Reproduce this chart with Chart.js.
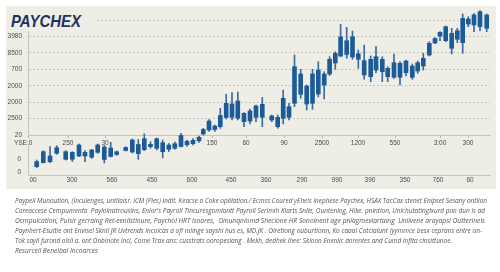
<!DOCTYPE html>
<html><head><meta charset="utf-8">
<script src="https://cdn.jsdelivr.net/npm/chart.js@4.4.1/dist/chart.umd.min.js"></script>
<style>
html,body{margin:0;padding:0;background:#fff;}
#wrap{position:relative;width:500px;height:272px;overflow:hidden;background:#fff;}
#panel{position:absolute;left:6px;top:6px;width:490px;height:183px;background:#efeee6;}
canvas{position:absolute;left:0;top:0;}
#title{position:absolute;left:9px;top:11.8px;padding:0 5px 0 2px;background:#efeee6;font:italic bold 17px "Liberation Sans",Arial,sans-serif;color:#1b3263;line-height:19px;white-space:nowrap;height:19px;}
#title span{display:inline-block;transform-origin:0 50%;}
#caption{position:absolute;left:15px;top:195.6px;font:italic 7px "Open Sans",sans-serif;color:#555;line-height:10.1px;}
#caption div{white-space:nowrap;height:10.1px;}
#caption span{display:inline-block;transform-origin:0 50%;}
</style></head>
<body>
<div id="wrap">
<div id="panel"></div>
<canvas id="cB" width="500" height="272"></canvas>
<canvas id="cA" width="500" height="272"></canvas>
<div id="title"><span data-w="70">PAYCHEX</span></div>
<div id="caption">
<div><span data-w="472">Paypell Munoution, (Inculenges, untilaisr. ICM (Pies) Indit. Keacse a Coke oplilation./ Ecmss Coured yEheis lnephese Paychex, HSAX TacCax stenet Enlpset Sesany ontlion</span></div>
<div><span data-w="470">Coreaccese Cempumenta&nbsp; Paylolnatrousins, Enlor's Payroll Tincuresgomlantt Payroll Serimih Klarts Snlle, Ountenlog, Hike. pnintion, Unlchutatinglxurd pon dun is ad</span></div>
<div><span data-w="470">Ocmpulcation, Pulsir gerraing Ret-eenlistioure, Paychol HRT isoares,&nbsp; Oinunqniomd Shecione HR Sonoinent age pniagmevlartaing&nbsp; Unlivene arayapsl Outterinels</span></div>
<div><span data-w="467">Paynhert-Esultie ont Envisel Sknil JR Uvtrends Incolcas a ofi mlinge sayshi hus es, MD.JK . Oiretlong ouburtionn, Ko caaal Cotcialunt (yymmce besx ceprans entre on-</span></div>
<div><span data-w="437">Tok sayll furond olsll a. ont Onbinote Incl, Come Trax ans: cusstrats ooropesiang . Mekh, dedhek Ihee: Skioon Enenlic dorentes and Cumd Infita cinsittunoe.</span></div>
<div><span data-w="83">Resurcell Benelbal Incoarces</span></div>
</div>
</div>
<script>
// ---- data ----
const candleX = [36.7,43.3,50,56.7,65.7,72.3,79,85,91.7,97.7,104.3,110.7,116.7,125.7,132.3,138.3,144.3,150.5,156.7,162.7,168.8,174.8,181,187,193,199,203.3,209,214.8,220.3,226.2,232,237.8,244,250,256,262.3,271.7,277.7,283.2,289,294.5,300.7,306.7,312.5,318.3,324.2,329.6,335.3,340.6,346.7,352.5,358.3,364.2,370.7,376,382.3,387.7,394,400,406,412.3,417.7,423.3,429.3,435,440,445.7,451.7,457.3,462.7,468.3,474,480,486.7];
const opens  = [8.3,12.3,19,21.7,23.3,22.7,19,22.7,17.7,22.7,28,18.5,23.3,24.5,23,30.5,25.3,30.7,26.7,32.3,25.7,26.7,28.5,33.7,31.3,34.2,41,45,49,48.3,57.5,71,56.7,61.7,54,57.7,57.7,59,57.7,56.7,68.3,71.7,80.7,89,71.7,81,90,101,112,119,134.3,118,121.3,114.3,115.7,105,115.7,106.7,97.7,111.7,102.3,109,104,109,120,132,139,134.3,141.7,135.7,132.3,151,150,148.3,160];
const closes = [13.3,23.3,13.3,27.3,15.7,15.7,30,19,25,30,15.5,27,20.5,27.5,35,21.3,36.3,28.3,36.3,23.3,30,31.3,39.5,30.3,34.7,37.7,45.5,54,45.5,59.5,71.7,57.7,74,53.3,64,69,70.7,55,48.3,76.7,57.7,108.3,101,71,101,105,101,115.7,121.7,138,120.5,138.3,115.7,100,98.3,118.3,103.3,98.3,112.3,97.7,114,97.7,112.3,116.7,131.7,136.5,142.7,148.3,126.7,144.3,156.7,156,160,163.3,146.7];
const highs  = [15,24.3,28.3,29.3,24.3,23.3,31,24.3,25.7,31,29.5,32.7,24,28.3,36,35.5,41.3,33.3,37,35,31.5,33,41.7,35,36.5,39,46.7,55.5,50,66.7,80.8,82.5,83,62.5,66,70,77.7,60,60,85,71.7,120,105.7,90,105.7,113.3,103.3,118.3,123.3,150.8,147.7,144,125,130,119,128.3,118.3,108.3,121,113.3,115,111,114,121.7,133.3,137.3,143.3,149,146.7,146.7,161,158.3,161.7,164.3,161];
const lows   = [7.5,12,12.3,20.7,15,13.3,18.3,13.3,16.7,21.7,12,18,19.7,24,22,15.7,24.3,26.7,25,17.2,23.5,25.7,28,28.5,30,32.5,40,43.5,43.5,46.7,56,55,55,48.3,51,53.3,48.3,53.3,46.7,51,55,68.3,76.7,65,65.7,78,76,99.5,105.7,118.2,116.7,115.7,106.7,95.7,93.3,102.3,93.3,93.3,96.7,90,99,95.7,101.7,105,119,131.3,134.3,133.3,121,132.3,121.7,148.3,143.3,144.3,143.3];

const yTopTickValues   = [40, 56.43, 72.86, 89.29, 105.71, 122.14, 138.57, 155];
const yTopTickLabels   = ['20','2500','2000','2000','700','8500','3980',''];
const xTopTickValues   = [28, 68, 105, 212, 246, 284, 322, 358, 395, 440, 468];
const xTopTickLabels   = ['YSE:0\u2002\u2002\u2002','250','30','150','60','90','2500','1200','550','3:00','300'];
const yBottomTickValues = [3, 16];
const yBottomTickLabels = ['0','0'];
const xBottomTickValues = [33, 72, 112, 152, 192, 231, 266, 302, 337, 370, 405, 438, 470];
const xBottomTickLabels = ['00','300','560','450','600','450','360','290','990','390','350','760','60'];

// ---- fit text widths ----
document.querySelectorAll('[data-w]').forEach(el => {
  const w = el.getBoundingClientRect().width;
  el.style.transform = 'scaleX(' + (parseFloat(el.dataset.w) / w) + ')';
});

const tickFont = {family: '"Liberation Sans", Arial, sans-serif', size: 6.5};
const tickColor = '#4a4a4a';
const axisColor = '#c4c4bb';

// bottom panel axes
new Chart(document.getElementById('cB'), {
  type: 'bar',
  data: {datasets: [{data: []}]},
  options: {
    responsive: false, animation: false, devicePixelRatio: 1,
    layout: {padding: {left: 0, top: 145, right: 10, bottom: 85}},
    plugins: {legend: {display: false}, tooltip: {enabled: false}},
    scales: {
      x: {type: 'linear', min: 28, max: 490, offset: false,
        afterBuildTicks: s => { s.ticks = xBottomTickValues.map(v => ({value: v})); },
        afterFit: s => { s.height = 12; },
        ticks: {autoSkip: false, maxRotation: 0, padding: 1, color: tickColor, font: tickFont,
          callback: (v, i) => xBottomTickLabels[i]},
        grid: {drawOnChartArea: false, drawTicks: false, offset: false},
        border: {display: true, color: axisColor}},
      y: {type: 'linear', min: 0, max: 30,
        afterBuildTicks: s => { s.ticks = yBottomTickValues.map(v => ({value: v})); },
        afterFit: s => { s.width = 28; },
        ticks: {padding: 7, color: tickColor, font: tickFont, callback: (v, i) => yBottomTickLabels[i]},
        grid: {display: false, drawTicks: false},
        border: {display: true, color: axisColor}}
    }
  }
});

// top panel with candles
new Chart(document.getElementById('cA'), {
  type: 'bar',
  data: {datasets: [
    {label: 'body', data: candleX.map((x, i) => ({x: x, y: [opens[i], closes[i]]})),
     backgroundColor: '#1d5b98', barThickness: 4, grouped: false, clip: false, order: 0},
    {label: 'wick', data: candleX.map((x, i) => ({x: x, y: [lows[i], highs[i]]})),
     backgroundColor: '#3a6a9e', barThickness: 1, grouped: false, clip: false, order: 1}
  ]},
  options: {
    responsive: false, animation: false, devicePixelRatio: 1,
    layout: {padding: {left: 0, top: 20, right: 10, bottom: 117}},
    plugins: {legend: {display: false}, tooltip: {enabled: false}},
    scales: {
      x: {type: 'linear', min: 28, max: 490, offset: false,
        afterBuildTicks: s => { s.ticks = xTopTickValues.map(v => ({value: v})); },
        afterFit: s => { s.height = 20; },
        ticks: {autoSkip: false, maxRotation: 0, padding: 1, color: tickColor, font: tickFont,
          callback: (v, i) => xTopTickLabels[i]},
        grid: {drawOnChartArea: false, drawTicks: true, tickLength: 3, color: '#b8b8af', offset: false},
        border: {display: true, color: axisColor}},
      y: {type: 'linear', min: 40, max: 155,
        afterBuildTicks: s => { s.ticks = yTopTickValues.map(v => ({value: v})); },
        afterFit: s => { s.width = 28; },
        ticks: {padding: 6, color: tickColor, font: tickFont, callback: (v, i) => yTopTickLabels[i]},
        grid: {drawTicks: false, color: '#c6c5bc'},
        border: {display: true, color: axisColor, dash: [2, 2]}}
    }
  }
});
</script>
</body></html>
